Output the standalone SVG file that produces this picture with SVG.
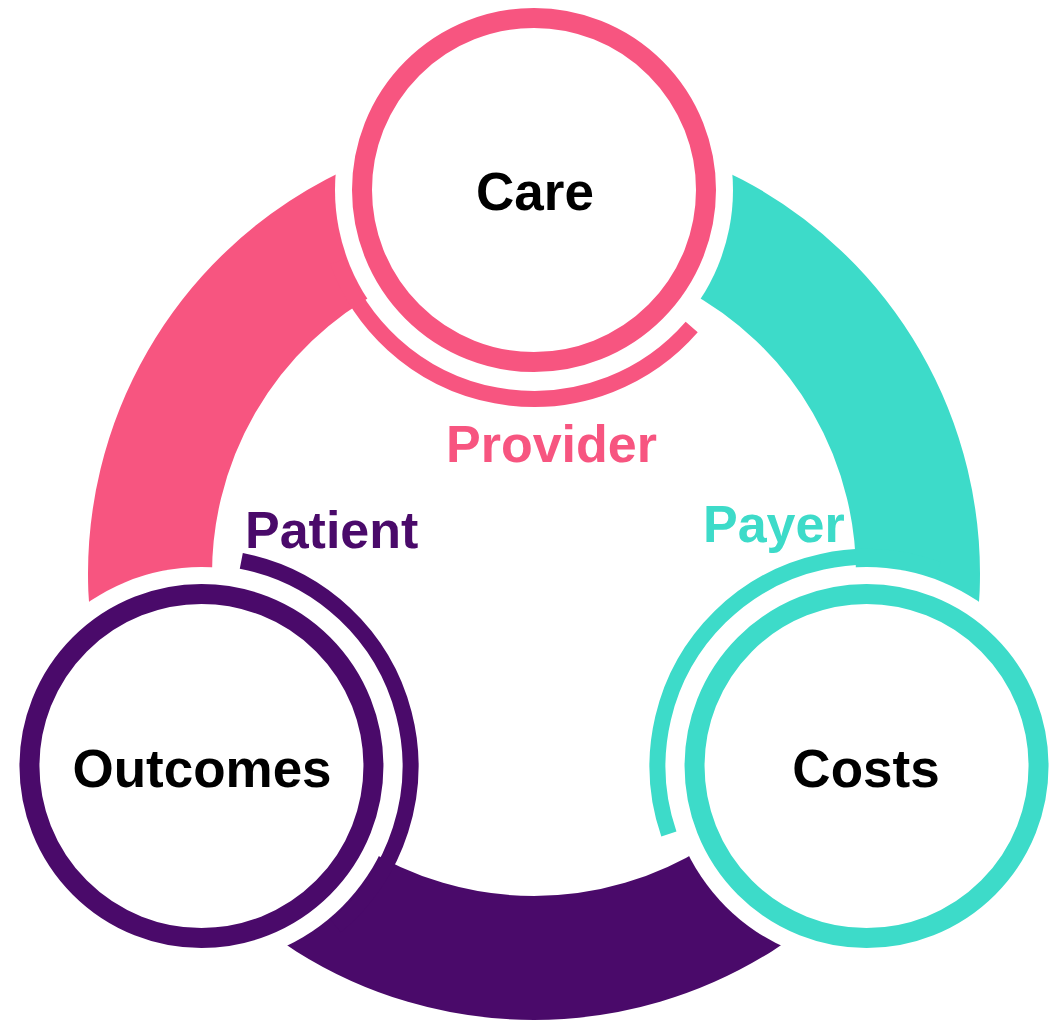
<svg xmlns="http://www.w3.org/2000/svg" width="1061" height="1023" viewBox="0 0 1061 1023">
<style>
.band{fill:none;stroke-width:124;stroke-linecap:butt}
.gap{fill:#fff;stroke:none}
.ring{fill:#fff;stroke-width:20}
.thin{fill:none;stroke-width:16;stroke-linecap:butt}
.node{font-family:"Liberation Sans",Arial,sans-serif;font-weight:bold;font-size:53px;fill:#000;text-anchor:middle}
.role{font-family:"Liberation Sans",Arial,sans-serif;font-weight:bold;font-size:52px}
.pink{stroke:#F75580}
.teal{stroke:#3DDBC9}
.purple{stroke:#4A0A6A}
</style>
<rect width="1061" height="1023" fill="#fff"/>
<g id="connectors">
<path class="band pink" d="M201.45,766 A384,384 0 0 1 534,190"/>
<path class="band teal" d="M534,190 A384,384 0 0 1 866.55,766"/>
<path class="band purple" d="M866.55,766 A384,384 0 0 1 201.45,766"/>
</g>
<g id="care">
<circle class="gap" cx="534" cy="190" r="199"/>
<circle class="ring pink" cx="534" cy="190" r="172"/>
<path class="thin pink" d="M691.7,327.1 A209,209 0 0 1 337.6,261.5"/>
<text class="node" x="535" y="210">Care</text>
</g>
<g id="costs">
<circle class="gap" cx="866.55" cy="766" r="199"/>
<circle class="ring teal" cx="866.55" cy="766" r="172"/>
<path class="thin teal" d="M668.9,834 A209,209 0 0 1 938,569.6"/>
<text class="node" x="866" y="787">Costs</text>
</g>
<g id="outcomes">
<circle class="gap" cx="201.45" cy="766" r="199"/>
<circle class="ring purple" cx="201.45" cy="766" r="172"/>
<path class="thin purple" d="M241.3,560.8 A209,209 0 0 1 335.8,926.1"/>
<text class="node" x="202" y="787">Outcomes</text>
</g>
<g id="labels">
<text class="role" x="446" y="462" fill="#F75580">Provider</text>
<text class="role" x="245" y="548" fill="#4A0A6A">Patient</text>
<text class="role" x="703" y="542" fill="#3DDBC9">Payer</text>
</g>
</svg>
